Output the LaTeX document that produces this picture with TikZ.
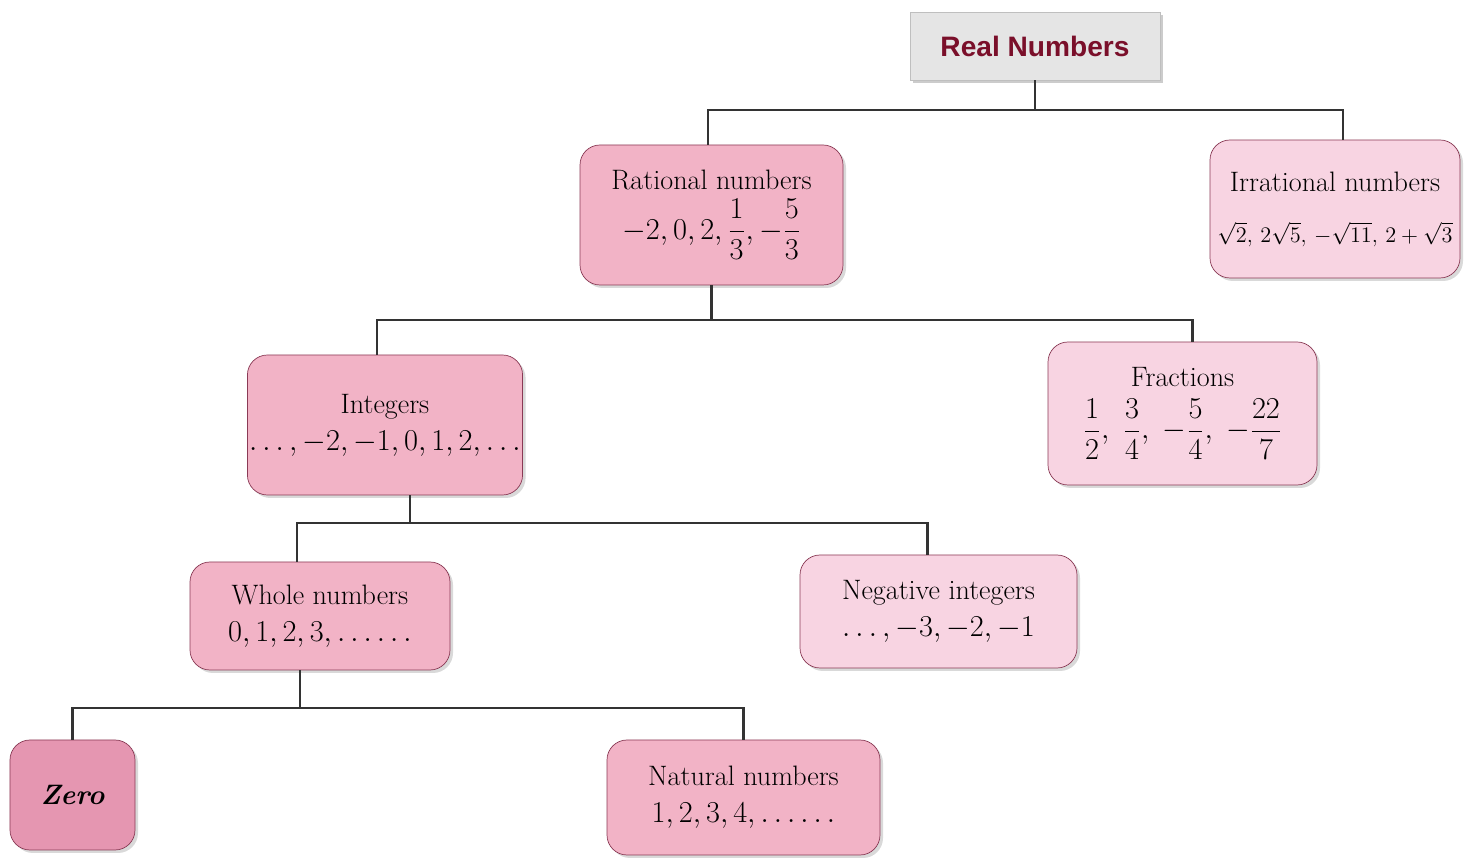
\documentclass[tikz,border=0pt]{standalone}
\usepackage{amsmath}
\usepackage{graphicx}
\usepackage{fontspec}
\newfontfamily\headfont{Liberation Sans}
\usetikzlibrary{shadows}
\definecolor{pinkmid}{HTML}{F2B3C6}
\definecolor{pinklight}{HTML}{F8D4E2}
\definecolor{pinkdark}{HTML}{E596B1}
\definecolor{edgered}{HTML}{8A3A55}
\definecolor{headred}{HTML}{7A0F2A}
\begin{document}
\begin{tikzpicture}[
  font=\fontsize{16}{21}\selectfont,
  pinknode/.style={draw=edgered,fill=pinkmid,rounded corners=0.4cm,align=center,inner sep=1pt,
    drop shadow={shadow xshift=0.06cm,shadow yshift=-0.06cm,opacity=0.3}},
  palenode/.style={pinknode,fill=pinklight},
  darknode/.style={pinknode,fill=pinkdark},
  greynode/.style={fill=black!10,draw=black!25,align=center,text=headred,font=\headfont\bfseries\fontsize{16}{20}\selectfont,
    drop shadow={shadow xshift=0.06cm,shadow yshift=-0.06cm,opacity=0.4}},
  link/.style={draw=black!80,line width=1.3pt}]
\useasboundingbox (0,0) rectangle (29.4,-17.3);
\node[greynode,minimum width=5cm,minimum height=1.36cm] (real) at (20.7,-0.92) {Real Numbers};
\node[pinknode,minimum width=5.26cm,minimum height=2.8cm] (rat) at (14.23,-4.3)
  {Rational numbers\\[4pt] $-2, 0, 2, \dfrac{1}{3}, -\dfrac{5}{3}$};
\node[palenode,minimum width=5cm,minimum height=2.76cm] (irr) at (26.7,-4.18)
  {Irrational numbers\\[8pt] \scalebox{0.88}{\fontsize{14.4}{17}\selectfont$\sqrt{2},\,2\sqrt{5},\,{-}\sqrt{11},\,2+\sqrt{3}$}};
\node[pinknode,minimum width=5.2cm,minimum height=2.8cm] (int) at (7.7,-8.5)
  {Integers\\ $\ldots, -2, -1, 0, 1, 2, \ldots$};
\node[palenode,minimum width=5.38cm,minimum height=2.86cm] (frac) at (23.65,-8.27)
  {Fractions\\[6pt] $\dfrac{1}{2},\; \dfrac{3}{4},\; -\dfrac{5}{4},\; -\dfrac{22}{7}$};
\node[pinknode,minimum width=5.2cm,minimum height=2.16cm] (whole) at (6.4,-12.32)
  {Whole numbers\\ $0, 1, 2, 3, \ldots\ldots$};
\node[palenode,minimum width=5.54cm,minimum height=2.26cm] (neg) at (18.77,-12.23)
  {Negative integers\\ $\ldots, -3, -2, -1$};
\node[darknode,minimum width=2.5cm,minimum height=2.2cm] (zero) at (1.45,-15.9)
  {\bfseries\itshape Zero};
\node[pinknode,minimum width=5.46cm,minimum height=2.3cm] (nat) at (14.87,-15.95)
  {Natural numbers\\ $1, 2, 3, 4, \ldots\ldots$};
\draw[link] (real.south) -- ++(0,-0.6) coordinate (j1);
\draw[link] ([xshift=-0.07cm]rat.north) |- (j1) -| ([xshift=0.16cm]irr.north);
\draw[link] (rat.south) -- ++(0,-0.7) coordinate (j2);
\draw[link] ([xshift=-0.16cm]int.north) |- (j2) -| ([xshift=0.2cm]frac.north);
\draw[link] ([xshift=0.5cm]int.south) -- ++(0,-0.55) coordinate (j3);
\draw[link] ([xshift=-0.46cm]whole.north) |- (j3) -| ([xshift=-0.22cm]neg.north);
\draw[link] ([xshift=-0.4cm]whole.south) -- ++(0,-0.75) coordinate (j4);
\draw[link] (zero.north) |- (j4) -| (nat.north);
\end{tikzpicture}
\end{document}
